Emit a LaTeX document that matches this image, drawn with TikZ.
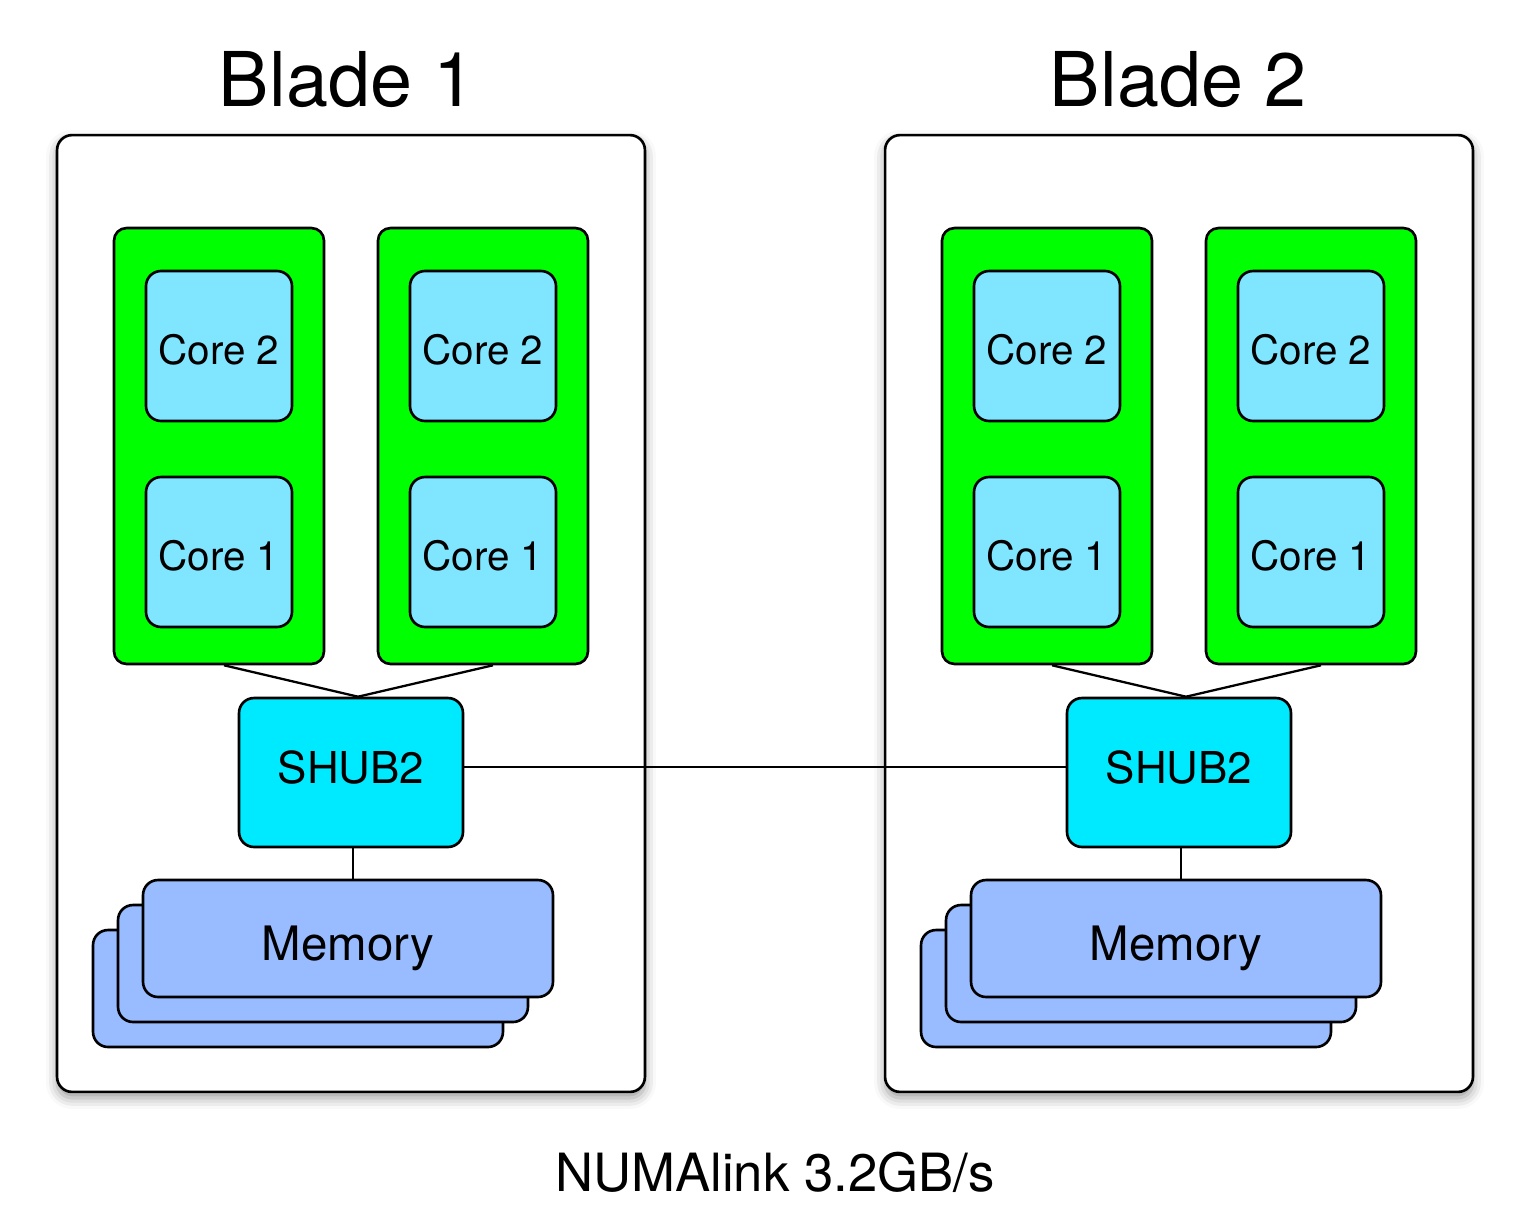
\documentclass[tikz,border=0pt]{standalone}
\usepackage{fontspec}
\setmainfont{TeX Gyre Heros}
\usepackage{tikz}
\usetikzlibrary{shadows.blur}

\definecolor{chipgreen}{RGB}{0,255,0}
\definecolor{corecyan}{RGB}{128,230,255}
\definecolor{hubcyan}{RGB}{0,234,255}
\definecolor{memblue}{RGB}{153,187,255}

\begin{document}
\begin{tikzpicture}[x=0.02cm, y=-0.02cm, line width=1.3pt,
	blade box/.style={draw,fill=white,rounded corners=0.3cm,line width=1.5pt,
		minimum width=11.76cm,minimum height=19.14cm,
		blur shadow={shadow xshift=0pt,shadow yshift=-0.12cm,shadow blur radius=0.22cm}},
	chip box/.style={draw,fill=chipgreen,rounded corners=0.25cm,line width=1.5pt,
		minimum width=4.2cm,minimum height=8.72cm},
	core node/.style={draw,fill=corecyan,rounded corners=0.3cm,line width=1.5pt,
		minimum width=2.92cm,minimum height=3cm,text height=0.74cm,text depth=0cm,
		font=\fontsize{23}{27}\selectfont},
	hub node/.style={draw,fill=hubcyan,rounded corners=0.3cm,line width=1.5pt,
		minimum width=4.48cm,minimum height=2.98cm,text height=0.42cm,text depth=0cm,
		font=\fontsize{25}{30}\selectfont},
	mem node/.style={draw,fill=memblue,rounded corners=0.3cm,line width=1.5pt,
		minimum width=8.2cm,minimum height=2.34cm,text height=0.87cm,text depth=0cm,
		font=\fontsize{27}{32}\selectfont},
	title/.style={font=\fontsize{43}{50}\selectfont}]
	
	\useasboundingbox (0,0) rectangle (1528,1231);
	
	% blades
	\node[blade box] (blade1) at (351,613.5) {};
	\node[blade box] (blade2) at (1179,613.5) {};
	\node[title] (t1) at (347,80) {Blade 1};
	\node[title] (t2) at (1178,80) {Blade 2};
	
	% processors
	\node[chip box] (chip1a) at (219,446) {};
	\node[chip box] (chip1b) at (483,446) {};
	\node[chip box] (chip2a) at (1047,446) {};
	\node[chip box] (chip2b) at (1311,446) {};
	\node[core node] (c1a2) at (219,346) {Core 2};
	\node[core node] (c1a1) at (219,552) {Core 1};
	\node[core node] (c1b2) at (483,346) {Core 2};
	\node[core node] (c1b1) at (483,552) {Core 1};
	\node[core node] (c2a2) at (1047,346) {Core 2};
	\node[core node] (c2a1) at (1047,552) {Core 1};
	\node[core node] (c2b2) at (1311,346) {Core 2};
	\node[core node] (c2b1) at (1311,552) {Core 1};
	
	% hubs
	\node[hub node] (hub1) at (351,772.5) {SHUB2};
	\node[hub node] (hub2) at (1179,772.5) {SHUB2};
	
	% memory stacks
	\node[mem node] (mem1c) at (298,988.5) {};
	\node[mem node] (mem1b) at (323,963.5) {};
	\node[mem node] (mem1) at (348,938.5) {Memory};
	\node[mem node] (mem2c) at (1126,988.5) {};
	\node[mem node] (mem2b) at (1151,963.5) {};
	\node[mem node] (mem2) at (1176,938.5) {Memory};
	
	\path
	([xshift=0.1cm]chip1a.south) edge ([xshift=0.14cm]hub1.north)
	([xshift=0.2cm]chip1b.south) edge ([xshift=0.14cm]hub1.north)
	([xshift=0.1cm]chip2a.south) edge ([xshift=0.14cm]hub2.north)
	([xshift=0.2cm]chip2b.south) edge ([xshift=0.14cm]hub2.north)
	([xshift=0.04cm]hub1.south) edge ([xshift=0.04cm]hub1.south |- mem1.north)
	([xshift=0.04cm]hub2.south) edge ([xshift=0.04cm]hub2.south |- mem2.north)
	([yshift=0.11cm]hub1.east) edge ([yshift=0.11cm]hub2.west);
	
	\node[font=\fontsize{30}{36}\selectfont] (link) at (775,1172) {NUMAlink 3.2GB/s};
\end{tikzpicture}
\end{document}
